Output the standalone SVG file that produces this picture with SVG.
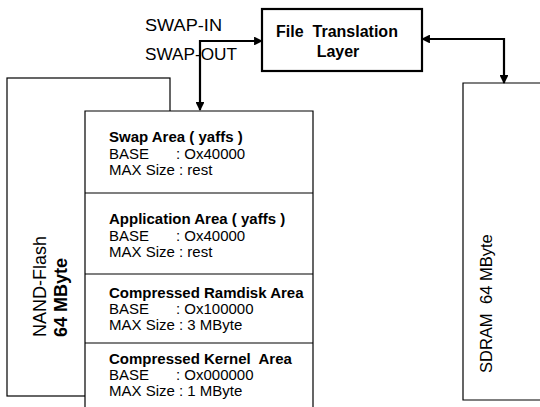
<svg xmlns="http://www.w3.org/2000/svg" width="540" height="407" viewBox="0 0 540 407">
<style>
.box{fill:#fff;stroke:#000;stroke-width:1.2}
.thick{fill:#fff;stroke:#000;stroke-width:2.2}
.conn{fill:none;stroke:#000;stroke-width:2.2}
text{font-family:"Liberation Sans",Arial,sans-serif;fill:#000;white-space:pre}
.t{font-size:15px}
.tb{font-size:15px;font-weight:bold}
.lbl{font-size:16px}
.ftl{font-size:16px;font-weight:bold}
.big{font-size:18px}
.sd{font-size:16.5px}
</style>
<defs>
<marker id="ah" viewBox="0 0 10 10" refX="9" refY="5" markerWidth="4" markerHeight="4" orient="auto-start-reverse" markerUnits="strokeWidth">
<path d="M0,0 L10,5 L0,10 z" fill="#000"/>
</marker>
</defs>
<g id="nand">
<rect class="box" x="7" y="78" width="163" height="318"/>
<text class="big" transform="translate(46,337) rotate(-90)">NAND-Flash</text>
<text class="big" font-weight="bold" transform="translate(67,337) rotate(-90)">64 MByte</text>
</g>
<g id="memory">
<path class="box" d="M85,410 V111 H313 V410"/>
<line class="box" x1="85" y1="193" x2="313" y2="193"/>
<line class="box" x1="85" y1="274" x2="313" y2="274"/>
<line class="box" x1="85" y1="343" x2="313" y2="343"/>
</g>
<g id="swap-area">
<text class="tb" x="109" y="142">Swap Area ( yaffs )</text>
<text class="t" x="109" y="159">BASE</text><text class="t" x="176" y="159">: Ox40000</text>
<text class="t" x="109" y="175">MAX Size : rest</text>
</g>
<g id="application-area">
<text class="tb" x="109" y="224">Application Area ( yaffs )</text>
<text class="t" x="109" y="241">BASE</text><text class="t" x="176" y="241">: Ox40000</text>
<text class="t" x="109" y="257">MAX Size : rest</text>
</g>
<g id="ramdisk-area">
<text class="tb" x="109" y="298">Compressed Ramdisk Area</text>
<text class="t" x="109" y="314">BASE</text><text class="t" x="176" y="314">: Ox100000</text>
<text class="t" x="109" y="330">MAX Size : 3 MByte</text>
</g>
<g id="kernel-area">
<text class="tb" x="109" y="364">Compressed Kernel  Area</text>
<text class="t" x="109" y="380">BASE</text><text class="t" x="176" y="380">: Ox000000</text>
<text class="t" x="109" y="396">MAX Size : 1 MByte</text>
</g>
<g id="ftl">
<rect class="thick" x="262" y="9" width="160" height="62"/>
<text class="ftl" x="337" y="37" text-anchor="middle">File  Translation</text>
<text class="ftl" x="338" y="57" text-anchor="middle">Layer</text>
</g>
<g id="sdram">
<path class="box" d="M545,83 H463 V400 H545"/>
<text class="sd" transform="translate(492,373) rotate(-90)">SDRAM</text>
<text class="sd" transform="translate(492,304) rotate(-90)">64 MByte</text>
</g>
<g id="connectors">
<path class="conn" d="M200,110 V41 H262" marker-start="url(#ah)" marker-end="url(#ah)"/>
<path class="conn" d="M422,39 H504 V83" marker-start="url(#ah)" marker-end="url(#ah)"/>
<text class="lbl" x="145" y="31" textLength="77" lengthAdjust="spacingAndGlyphs">SWAP-IN</text>
<text class="lbl" x="145" y="60" textLength="92" lengthAdjust="spacingAndGlyphs">SWAP-OUT</text>
</g>
</svg>
